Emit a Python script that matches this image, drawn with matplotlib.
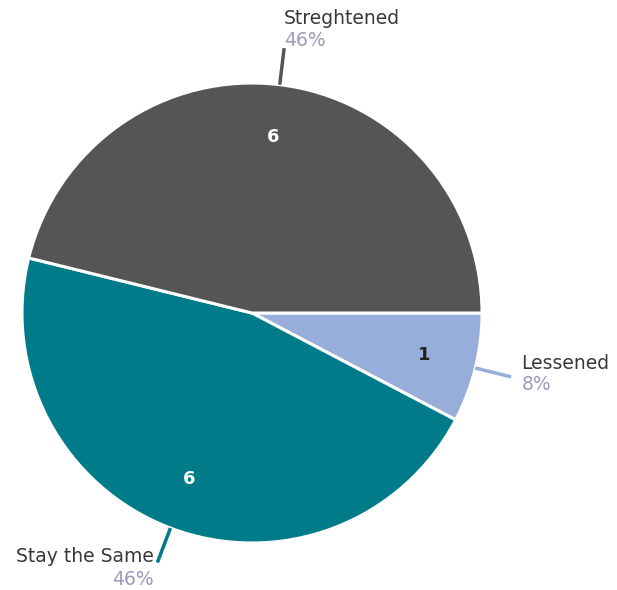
import numpy as np
import matplotlib.pyplot as plt

labels = ["Lessened", "Stay the Same", "Streghtened"]
counts = [1, 6, 6]
colors = ["#97AEDB", "#007B8A", "#555555"]
count_colors = ["#222222", "white", "white"]

plt.rcParams["font.family"] = ["DejaVu Sans"]

W, H, dpi = 617, 590, 100
cx, cy, R = 252, 313, 230  # pie centre and radius in pixels

fig = plt.figure(figsize=(W / dpi, H / dpi), dpi=dpi)
ax = fig.add_axes([0, 0, 1, 1])

total = sum(counts)
wedges, _, autotexts = ax.pie(
    counts, colors=colors, startangle=0, counterclock=False,
    radius=1, center=(0, 0), pctdistance=0.77,
    autopct=lambda p: f"{p * total / 100:.0f}",
    wedgeprops=dict(edgecolor="white", linewidth=2.2),
    textprops=dict(fontsize=13, fontweight="bold"),
    frame=True,
)
ax.set_xlim(-cx / R, (W - cx) / R)
ax.set_ylim(-(H - cy) / R, cy / R)
ax.set_aspect("equal")
ax.axis("off")
for t, c in zip(autotexts, count_colors):
    t.set_color(c)

lab_kw = dict(fontsize=13.5, color="#383838")
pct_kw = dict(fontsize=13.5, color="#9A9CB8")

# outside labels: connector, name and share
for w, name, n, col in zip(wedges, labels, counts, colors):
    mid = np.deg2rad((w.theta1 + w.theta2) / 2)
    dx, dy = np.cos(mid), np.sin(mid)
    ax.plot([dx * 1.0, dx * 1.16], [dy * 1.0, dy * 1.16], color=col, lw=2.5,
            solid_capstyle="butt")
    ex, ey = dx * 1.16, dy * 1.16
    pct = f"{n / total * 100:.0f}%"
    if dx < -0.2:
        tx = ex - 0.015
        ax.text(tx, ey + 0.025, name, ha="right", va="center", **lab_kw)
        ax.text(tx, ey - 0.075, pct, ha="right", va="center", **pct_kw)
    elif dx > 0.5:
        tx = ex + 0.045
        ax.text(tx, ey + 0.06, name, ha="left", va="center", **lab_kw)
        ax.text(tx, ey - 0.035, pct, ha="left", va="center", **pct_kw)
    else:
        tx = ex
        ax.text(tx, ey + 0.13, name, ha="left", va="center", **lab_kw)
        ax.text(tx, ey + 0.035, pct, ha="left", va="center", **pct_kw)

fig.savefig("out.png", dpi=dpi)
